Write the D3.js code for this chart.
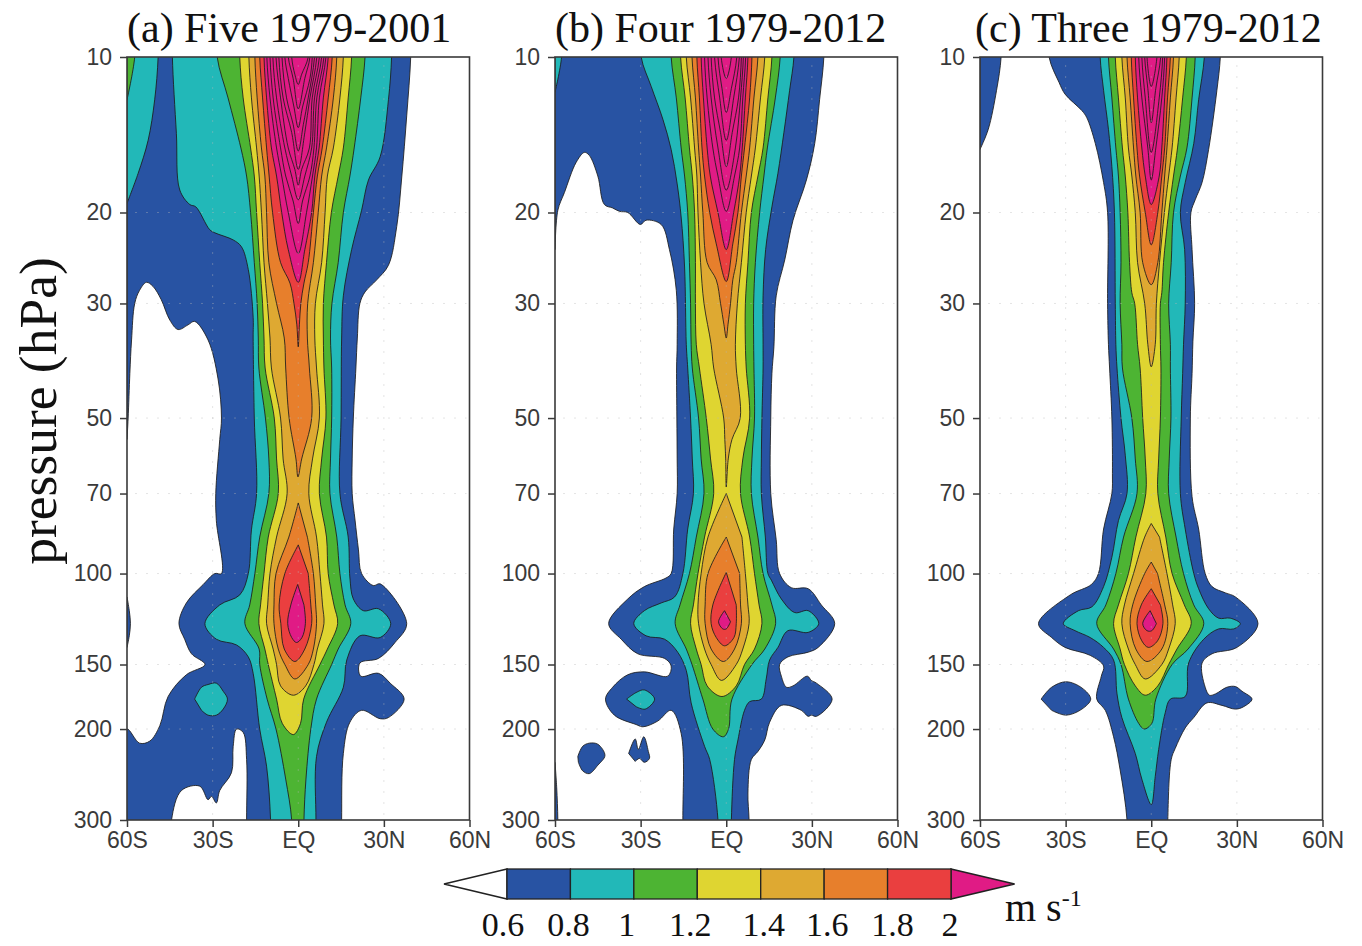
<!DOCTYPE html>
<html><head><meta charset="utf-8">
<script src="https://cdn.jsdelivr.net/npm/d3@7"></script>
<style>html,body{margin:0;background:#fff}svg{display:block}</style></head>
<body><svg id="c" width="1362" height="946"></svg>
<script>
const titles=["(a) Five 1979-2001","(b) Four 1979-2012","(c) Three 1979-2012"];
const pressureTicks=[10,20,30,50,70,100,150,200,300];
const latTicks=[-60,-30,0,30,60];
const latLabels=["60S","30S","EQ","30N","60N"];
const levels=[0.6,0.8,1,1.2,1.4,1.6,1.8,2];
const levelLabels=["0.6","0.8","1","1.2","1.4","1.6","1.8","2"];
const colors=["#2853a3","#22b8b8","#4db433","#dfd531","#dea932","#e77f2c","#ea3f3f","#e01b85"];

// free outlines: [lat, hPa]
const a06=[[-60,10],[39.4,10],[38,13],[36.3,17],[34.5,21.3],[31.6,25.3],[27.5,27],[23.4,28.5],[21.6,30],[20.7,35],[20.2,40],[19.3,50],[18.9,60],[18.9,70],[19.9,78.8],[21.1,90],[22.2,100],[26.3,105.5],[28.7,104.7],[38,125],[33.9,136],[28.1,146],[21.6,149],[21.9,158],[28.1,156],[32.2,163],[37.1,175],[31.6,190],[28.7,191],[22.2,184],[18.1,194],[15.8,223],[15.2,300],[-18.1,300],[-18.1,229],[-19.3,203],[-21.6,200],[-22.8,216],[-23.4,243],[-27.5,263],[-28.7,278],[-30.4,270],[-31.6,274],[-34.5,258],[-40.9,263],[-44.4,300],[-60,300],[-60,200],[-55.6,213],[-52,211],[-48.5,197],[-45.6,173],[-39.2,157],[-32.7,150],[-37.4,143],[-39.8,134],[-41.8,125],[-39.2,114],[-33.3,105],[-29.2,100],[-26.9,100],[-28.7,79],[-28.9,70],[-27.5,55],[-26.9,50],[-28.1,42],[-31.6,35.3],[-36.3,32.5],[-38.6,33],[-42.1,33.7],[-45,32.3],[-48,29.5],[-50.9,27.8],[-53.2,27.3],[-55.6,28.3],[-57.3,30],[-58.4,35.3],[-59,41],[-59.6,50],[-60,55]];
const a06edge=[[-60,111],[-59.2,118],[-58.8,125],[-59.2,132],[-60,139]];
const a08main=[[-44.1,10],[-42.7,14.05],[-41.5,18.1],[-38,19.3],[-35.9,19.5],[-31,21.6],[-29.2,21.9],[-22.8,22.6],[-19.9,23.3],[-17.5,25.8],[-15.8,31.9],[-15.8,35],[-15.4,50],[-14.6,70],[-16.4,82.3],[-17.5,100],[-20.5,110],[-27.5,115],[-32.7,125],[-28.7,134],[-21.6,137.5],[-17.5,145],[-15.8,156],[-13.5,200],[-11.1,236],[-9.7,300],[6.2,300],[6.4,226],[9.9,194],[15.8,166],[17,147],[21.6,132],[28.7,133],[32.4,125],[28.1,117],[22.8,118],[19.3,112],[18.1,102],[17.5,85],[14.6,70],[15,50],[15.2,35],[15.8,29],[18.7,23.6],[22.2,19.8],[24.6,17.3],[28.7,15.6],[31.6,12.1],[32.7,10]];
const a08left=[[-60,10],[-49.1,10],[-50.3,12.1],[-52.6,14.5],[-56.1,16.8],[-60,19.2]];
const a08blob=[[-36.3,175],[-33.9,166],[-31.6,164],[-28.7,163],[-26.3,169],[-24.8,175],[-26.3,183],[-28.7,188],[-31.6,188],[-33.9,184]];
const a10corner=[[-60,10],[-57.3,10],[-60,12.1]];

// nested contours: [hPa, left lat, right lat]
const a10=[[10,-28.4,23.4],[12,-24.6,21.9],[15,-20.1,19.6],[17,-18.1,18.1],[20,-16.7,15.8],[25,-15.4,14],[30,-14.4,11.8],[35,-14,11.3],[40,-13.8,11.7],[50,-11.5,11.7],[60,-10.3,11.3],[70,-10.3,11.1],[85,-13.5,13.5],[100,-15.2,14.6],[115,-17,16.4],[125,-18.7,18.4],[140,-13.7,14],[150,-13.5,11.7],[175,-10.9,6.4],[200,-7.8,4.4],[250,-4.4,2.7],[300,-2.3,2]];
const a12=[[10,-20.5,18.7],[12,-19.3,17.5],[15,-16.7,15.8],[17,-15.4,14],[20,-14.6,11.6],[25,-13.5,9.9],[30,-12.5,8.8],[35,-12,8.8],[40,-11.6,9],[50,-8.4,9.7],[60,-7.6,8.2],[70,-7,7.4],[85,-10.5,9.9],[100,-12,10.5],[115,-13.2,12.5],[125,-13.8,13.8],[140,-11.7,10.2],[150,-10.5,7.6],[175,-7.6,1.9],[195,-5.6,0.8],[205,-1.7,-1.7]];
const a14=[[10,-17.3,15.8],[12,-16.4,14.6],[15,-14.6,12.3],[17,-13.7,10.2],[20,-12.9,9.4],[25,-12,8.2],[30,-10.8,6],[35,-9.9,5.8],[40,-9.4,6.4],[50,-6.2,7.4],[60,-5.3,5],[70,-3.9,3.7],[85,-7.6,6.4],[100,-9.9,7.6],[115,-10.7,8.5],[125,-11.1,9],[140,-8.8,6.7],[150,-7.6,5.5],[165,-6.2,2.6],[172,-1.7,-1.7]];
const a16up=[[10,-15.2,13.5],[12,-14.4,12.3],[15,-12.9,9.9],[17,-11.7,8.2],[20,-11.1,7],[25,-10.3,5.3],[30,-7.6,3.3],[35,-4.9,3.2],[40,-4.4,3.9],[50,-3.2,4.7],[60,-0.8,1.2],[65,-0.1,-0.1]];
const a16lo=[[73,0,0],[85,-3.3,3.2],[100,-7.8,5.3],[115,-8.5,6.1],[125,-8.5,6.4],[140,-7,5.3],[150,-4.7,3.5],[160,-1.2,-1.2]];
const a18up=[[10,-13.5,11.9],[12,-12.5,10.5],[15,-11.1,8.4],[17,-10.2,6.7],[20,-9,5.3],[25,-6.2,3.5],[27.4,-2.9,2],[30,-1.5,0.9],[33,-0.5,0.4],[36.4,0,0]];
const a18lo=[[88,0,0],[100,-4.7,3.5],[115,-6.7,4.4],[125,-6.1,4.7],[140,-4.9,2.3],[148,-1.2,-1.2]];
const a20lo=[[105,-0.2,-0.2],[115,-2.6,2],[125,-3.7,2.5],[133,-2.3,1.3],[136,-0.6,-0.6]];
const a20=[[10,-12,10.5],[12,-11.1,8.8],[15,-9.4,7.3],[17,-7.6,5.8],[20,-5.8,4.7],[23.6,-3.5,2.3],[27.3,0,0]];
const a22=[[10,-11,9.7],[12,-9.9,7.4],[15,-7.6,6.4],[17,-5.8,5],[20,-3.5,2.9],[24,0,0]];
const a24=[[10,-9.9,9],[12,-8.8,6.5],[15,-6.2,5.5],[17,-4.4,4.1],[19,-1.8,1.5],[21,0,0]];
const a26=[[10,-8.9,8.2],[12,-7.6,5.7],[15,-4.7,4.7],[17,-2.3,2.3],[18.9,0,0]];
const a28=[[10,-7.8,7.4],[12,-6.2,4.9],[15,-3.5,3.9],[16.5,-1.2,1.2],[17.7,0,0]];
const a30=[[10,-6.8,6.5],[12,-5.3,4.1],[14,-2.3,2.3],[16.5,0,0]];
const a32=[[10,-5.7,5.7],[12,-4.1,3.5],[13.5,-1.8,1.8],[15.2,0,0]];
const a34=[[10,-4.7,4.9],[11,-3.5,4.1],[12.5,-1.5,1.5],[13.7,0,0]];
const a36=[[10,-3.5,4.1],[11,-1.8,2.3],[12.6,0,0]];
const a38=[[10,-2.3,3.5],[10.8,-1.2,1.2],[11.3,0,0]];

const b06=[[-60,10],[34.2,10],[32.7,12.1],[31,14.7],[28.1,17.3],[23.4,20.7],[20.5,24.7],[17.5,29],[16.7,36.4],[16,41],[15.6,50],[15.6,70],[17.5,86],[18.7,100],[22.8,106.5],[28.7,107],[33.3,115],[38,125],[32.2,139],[28.7,142],[21.6,145],[18.7,150],[19.3,158],[21.1,166],[23.4,165],[28.4,158],[29.8,161],[31.6,163],[37.1,175],[31.6,189],[29.8,188],[28.7,189],[26.3,184],[19.3,180],[15.2,194],[13.5,210],[11.1,221],[8.8,229],[7.6,266],[8,300],[-15.2,300],[-15.8,204],[-19.3,184],[-24,193],[-29.2,198],[-31.6,196],[-39.2,188],[-42.3,175],[-39.8,166],[-34.5,157],[-28.7,155],[-20.5,158],[-19.3,151],[-21.6,146],[-31,143],[-36.8,134],[-41.2,125],[-34.5,112],[-28.7,106],[-21.1,102],[-19.3,100],[-18.4,82],[-17.2,70],[-17.2,60],[-17.3,50],[-17.4,40],[-17.2,36],[-17.5,28.3],[-19.9,23.6],[-22.8,21.1],[-28.1,20.7],[-30.1,21.1],[-34.5,20],[-37.4,19.9],[-39.8,19.6],[-42.7,19.3],[-45,17],[-48,15.5],[-49.7,15.3],[-52.6,16],[-56.7,18.3],[-59,19.8],[-60,23.6]];
const b06blob=[[-52,226],[-50.3,216],[-48,213],[-45,214],[-42.5,225],[-45,235],[-48,244],[-50.3,241],[-51.8,232]];
const b06w=[[-34.2,223],[-31.9,209],[-30.8,219],[-28.9,207],[-27.3,221],[-26.9,228],[-28.7,232],[-30.4,228],[-31.9,231]];
const b06edge=[[-60,232],[-59.4,260],[-59,300],[-60,300]];
const b08corner=[[-60,10],[-57.7,10],[-60,11.7]];
const b08main=[[-29.8,10],[-26.3,11.4],[-22.2,13.2],[-19.3,15.1],[-17.2,17.6],[-15.8,20.4],[-14.6,25.5],[-14,36],[-13.5,40],[-12.5,50],[-11.9,60],[-11.5,70],[-13.5,82],[-15.2,100],[-18.1,111],[-22.8,114],[-28.7,118],[-32.4,125],[-28.1,132],[-21.6,134],[-17,142],[-14,154],[-12.3,178],[-7.6,216],[-5.8,229],[-2.9,300],[1.8,300],[2.9,229],[4.1,210],[6.4,184],[8.2,177],[12.3,175],[14,160],[15.2,147],[18.1,139],[21.6,129],[28.7,130],[32.4,125],[28.7,118],[24,119],[19.3,112],[15.8,103],[14.6,100],[13.7,85],[12.3,70],[12.3,60],[12.5,50],[12.9,40],[12.9,36],[12.9,29],[13.8,23.6],[16,19.5],[18.1,16.8],[20.2,14],[22.2,11.6],[23.7,10]];
const b08blob=[[-34.9,175],[-31.6,170],[-28.7,168],[-25.1,175],[-28.4,183],[-31.6,181]];
const b10=[[10,-19.3,18.9],[12,-17.5,17.2],[15,-15.8,14.4],[17,-14.6,13.2],[20,-13.5,11.7],[25,-12.9,10.2],[30,-12.5,9.6],[36,-12.3,9.6],[40,-11.9,9.7],[50,-9.7,9.9],[60,-8.8,9],[70,-7.8,8.8],[85,-10.5,11.1],[100,-12.9,12.9],[115,-16.2,16],[125,-17.9,17.3],[140,-14,13.5],[150,-12,9],[175,-8.2,2],[200,-4.7,0.8],[207,-1,-1]];
const b12=[[10,-16,16],[12,-14.4,14.6],[15,-12.9,12.9],[17,-11.9,11.1],[20,-11.1,8.8],[25,-10.8,7.6],[30,-10.8,6.7],[36,-10.5,6.7],[40,-9.4,7],[50,-7,8.2],[60,-5.5,5.8],[70,-4.4,5],[85,-7.6,8.2],[100,-9.9,9.9],[115,-11.5,11.5],[125,-12.5,12.5],[140,-10.5,9.9],[150,-8.8,6.4],[165,-6.7,3.5],[173,-1.5,-1.5]];
const b14up=[[10,-14,13.5],[12,-12.5,12],[15,-11.1,10.2],[17,-10.3,8.8],[20,-9.9,7],[25,-9,5.3],[30,-7.8,3.9],[36,-5.3,3.2],[40,-4.4,3.5],[50,-0.9,4.9],[55,-0.5,2],[60,-0.2,0.7],[68,0,0]];
const b14lo=[[70,0,0],[85,-6.4,5.5],[100,-8.8,6.7],[115,-9.9,7.6],[125,-9.7,8],[140,-7.6,5.8],[150,-5.3,3.5],[161,-1.7,-1.7]];
const b16up=[[10,-12,11.1],[12,-10.8,9.7],[15,-9.7,8.2],[17,-9,7],[20,-8.2,5.3],[25,-6.7,3.5],[27,-3.5,2.3],[30,-2,1.5],[33,-0.8,0.6],[35,0,0]];
const b16lo=[[85,0,0],[100,-6.4,4.7],[115,-7.4,5],[125,-7.4,5.3],[140,-5.3,2.9],[148,-1,-1]];
const b18up=[[10,-10.3,9],[12,-9.4,8.2],[15,-8.5,6.4],[17,-7.6,5.3],[20,-5.8,4.1],[23,-3.5,2.3],[27.2,0,0]];
const b18lo=[[99.5,0,0],[115,-4.7,3.5],[125,-5.3,3.5],[133,-3.5,2.7],[138,-0.6,-0.6]];
const b20lo=[[118,-0.6,-0.6],[124,-2.7,1.5],[128,-1.2,0]];
const b20=[[10,-8.8,7.6],[12,-8,6.7],[15,-6.7,5.6],[17,-5.6,4.7],[20,-2.9,2.6],[23.6,0,0]];
const b22=[[10,-7.6,6.8],[12,-6.7,5.8],[15,-4.7,4.7],[17,-2.9,2.9],[19.9,0,0]];
const b24=[[10,-6.4,6],[12,-5.3,5],[15,-2.9,3.2],[18.1,0,0]];
const b26=[[10,-5.3,5.3],[12,-4.1,4.3],[14,-2,2.1],[16.3,0,0]];
const b28=[[10,-4.1,4.6],[12,-2.3,2.6],[14.5,0,0]];
const b30=[[10,-2.9,3.7],[11.5,-1.5,1.8],[12.8,0,0]];
const b32=[[10,-1.8,1.8],[11,0,0]];

const c06strip=[[-60,10],[-52.6,10],[-54.2,11.6],[-57.1,13.8],[-60,15.1]];
const c06=[[-35.8,10],[-32.3,11.2],[-30.2,11.8],[-24.3,12.7],[-22.6,13.1],[-19.6,14.7],[-16.7,17.5],[-15.3,20],[-15.3,30],[-15,36],[-14.6,40],[-13.8,50],[-13.6,64],[-13.8,70],[-16.7,82],[-18.5,100],[-21,105],[-28.4,110],[-39.5,125],[-34.9,133],[-30.2,139],[-21.4,144],[-16.7,151],[-17.5,158],[-19.1,175],[-16.1,184],[-13.2,207],[-10.9,240],[-8.5,300],[5.8,300],[7,229],[8.4,218],[11.9,199],[14.9,190],[19.5,178],[24.8,180],[29.5,183],[32.4,181],[35.3,175],[31.8,169],[29.5,165.5],[26.5,166],[22.5,171],[20.4,172],[18.9,166],[17.8,149],[21.3,143],[30,139],[37.4,125],[29.5,111],[26,109],[21.3,106],[18.9,100],[16.6,82],[14.3,71],[13.7,50],[14.3,41],[14.6,35.5],[15.2,30],[14.3,23.6],[13.9,20],[15.4,18.9],[17.8,17.5],[20.1,15.1],[23,11.6],[24.2,10]];
const c06blob=[[-38.6,175],[-34.9,166],[-29.8,162],[-24.3,166.5],[-21.2,175],[-24.3,183],[-29.8,188],[-34.9,184]];
const c08=[[-17.9,10],[-16.7,11.6],[-15,13.8],[-13.8,16.3],[-12.9,20],[-12.6,30],[-12.4,36],[-12,40],[-10.6,50],[-9.1,59],[-8.5,70],[-11.5,79],[-13.8,93],[-16.7,106],[-20.8,116],[-25.5,118],[-30.8,125],[-26.7,129],[-21.4,133],[-16.7,139],[-13.2,147],[-12,171],[-10.3,190],[-5.6,223],[-3.3,250],[0,280],[1.4,247],[2.6,219],[4.9,186],[6.7,175],[11.9,173],[13.1,149],[18.4,134],[23.6,128],[28.9,128],[31.2,125],[27.7,122],[23.6,122],[20.1,117],[16.6,107],[14.9,100],[11.9,82],[10.2,70],[10.5,50],[11,41],[11.3,36],[11.9,30],[11.7,23.6],[10.2,20],[11.9,17.5],[14.9,14.7],[16.6,12.1],[18.6,10]];
const c10=[[10,-15,15.4],[12,-13.8,14.3],[15,-12.4,12.5],[17,-11.5,10.2],[20,-10.9,7.8],[25,-10.6,7],[30,-10.9,6.1],[36,-10.3,6.7],[40,-10.1,6.7],[50,-6.8,6.9],[60,-5.6,6.3],[70,-5,6.1],[85,-9.7,8.7],[100,-12.4,11.3],[115,-15.9,14.9],[125,-19.1,18.4],[140,-13.2,12.9],[150,-10.6,7.3],[175,-8,1.6],[195,-4.4,0.2],[200,-2.5,-2.5]];
const c12=[[10,-12.6,12.3],[12,-11.5,11],[15,-10.1,9.2],[17,-9.1,7.8],[20,-8.2,6.1],[25,-7.6,4.3],[28.6,-6.8,3.7],[30,-5.8,3.2],[36,-4.8,3.2],[40,-3.9,3.4],[50,-3,3.2],[60,-2.1,2.6],[70,-1.9,2.3],[85,-5.4,5.1],[100,-8,7.3],[115,-11.5,11.6],[125,-13.2,14],[140,-10.9,9],[150,-9.4,6.1],[165,-5.6,2.3],[172,-2.1,-2.1]];
const c14up=[[10,-10.3,9.8],[12,-9.1,8.7],[15,-8,7.3],[17,-6.8,6.1],[20,-5.6,4.6],[25,-4.8,2.9],[30,-2.3,1.8],[36,-1.2,1.4],[39.8,0,0]];
const c14lo=[[80,0,0],[85,-2.3,2.9],[100,-6.2,5.5],[115,-9.4,7.5],[125,-10.3,8.4],[140,-8,6.1],[150,-5.6,3.7],[160,-2.1,-2.1]];
const c16up=[[10,-8.5,7.8],[12,-7.4,6.7],[15,-6.2,5.5],[17,-5.4,4.7],[20,-3.9,3.7],[25,-3,2.3],[27.6,0,0]];
const c16lo=[[95,0,0],[100,-2.3,2.2],[115,-6.5,4.7],[125,-7.4,5.8],[140,-5.4,3.7],[148,-1.5,-1.5]];
const c18up=[[10,-7,6.7],[12,-6.2,5.7],[15,-5,4.7],[17,-4.1,3.7],[20,-2.1,2.3],[23.1,0,0]];
const c18lo=[[107,0,0],[115,-3.5,3.2],[125,-5,4.1],[135,-3.3,2.2],[139,-1,-1]];
const c20lo=[[118,-0.4,-0.4],[125,-3,1.8],[129,-1.5,0.2]];
const c20=[[10,-5.6,5.5],[12,-4.8,4.7],[15,-3.3,3.7],[17,-2.1,2.8],[19.3,0,0]];
const c22=[[10,-4.4,4.7],[12,-3.3,3.7],[15,-1.2,1.6],[17.3,0,0]];
const c24=[[10,-3.3,4],[12,-2.1,2.8],[15.3,0,0]];
const c26=[[10,-2.3,3.3],[11.5,-1.2,1.6],[13.4,0,0]];
const c28=[[10,-1.5,2],[11.4,0,0]];

const rows=r=>{const L=r.map(d=>[d[1],d[0]]),R=r.filter(d=>d[1]!==d[2]).map(d=>[d[2],d[0]]).reverse();return L.concat(R)};
// outlines that reach the top or bottom of the frame run on past it, so they meet the frame without rounding
const past=pts=>pts.flatMap((d,i)=>{
 const n=pts.length,prev=pts[(i+n-1)%n],next=pts[(i+1)%n],out=d[1]===300?360:d[1]===10?8.3:null;
 if(out===null)return [d];
 if(next[1]===d[1])return [d,[d[0],out]];
 if(prev[1]===d[1])return [[d[0],out],d];
 return [d];
});
const mag=7;
const panels=[
 {px:127,layers:[[0,a06],[0,a06edge],[1,a08left],[1,a08main],[1,a08blob],[2,a10corner],[2,rows(a10)],[3,rows(a12)],[4,rows(a14)],[5,rows(a16up)],[5,rows(a16lo)],[6,rows(a18up)],[6,rows(a18lo)],[mag,rows(a20lo)],...[a20,a22,a24,a26,a28,a30,a32,a34,a36,a38].map(r=>[mag,rows(r)])]},
 {px:555,layers:[[0,b06],[0,b06blob],[0,b06w],[0,b06edge],[1,b08corner],[1,b08main],[1,b08blob],[2,rows(b10)],[3,rows(b12)],[4,rows(b14up)],[4,rows(b14lo)],[5,rows(b16up)],[5,rows(b16lo)],[6,rows(b18up)],[6,rows(b18lo)],[mag,rows(b20lo)],...[b20,b22,b24,b26,b28,b30,b32].map(r=>[mag,rows(r)])]},
 {px:980,layers:[[0,c06strip],[0,c06],[0,c06blob],[1,c08],[2,rows(c10)],[3,rows(c12)],[4,rows(c14up)],[4,rows(c14lo)],[5,rows(c16up)],[5,rows(c16lo)],[6,rows(c18up)],[6,rows(c18lo)],[mag,rows(c20lo)],...[c20,c22,c24,c26,c28].map(r=>[mag,rows(r)])]}
];

const svg=d3.select("#c");
const W=342.5,T=57,B=820;
const y=d3.scaleLog().domain([10,300]).range([T,B]);
const tickFont="'Liberation Sans',Arial,sans-serif",serif="'Liberation Serif','Times New Roman',serif";

panels.forEach((p,i)=>{
 const x=d3.scaleLinear().domain([-60,60]).range([p.px,p.px+W]);
 const line=d3.line().x(d=>x(d[0])).y(d=>y(d[1])).curve(d3.curveCatmullRom.alpha(0.5));
 const cid="clip"+i;
 svg.append("clipPath").attr("id",cid).append("rect").attr("x",p.px).attr("y",T).attr("width",W).attr("height",B-T);
 const g=svg.append("g").attr("clip-path",`url(#${cid})`);
 g.selectAll("path").data(p.layers).join("path")
  .attr("d",d=>line(past(d[1]))+"Z").attr("fill",d=>colors[d[0]]).attr("stroke","#1c1c1c").attr("stroke-width",1).attr("stroke-opacity",.85).attr("stroke-linejoin","round");
 const grid=svg.append("g").attr("stroke","#b8b8b8").attr("stroke-opacity",.38).attr("stroke-dasharray","2 9");
 pressureTicks.slice(1,-1).forEach(v=>grid.append("line").attr("x1",p.px+8).attr("x2",p.px+W-3).attr("y1",y(v)).attr("y2",y(v)));
 [-30,0,30].forEach(v=>grid.append("line").attr("x1",x(v)).attr("x2",x(v)).attr("y1",T+8).attr("y2",B-3));
 svg.append("rect").attr("x",p.px).attr("y",T).attr("width",W).attr("height",B-T).attr("fill","none").attr("stroke","#3a3a3a").attr("stroke-width",1.6);
 const ax=svg.append("g").attr("transform",`translate(${p.px},0)`)
  .call(d3.axisLeft(y).tickValues(pressureTicks).tickFormat(d3.format("d")).tickSize(7).tickPadding(8));
 const bx=svg.append("g").attr("transform",`translate(0,${B})`)
  .call(d3.axisBottom(x).tickValues(latTicks).tickFormat((d,j)=>latLabels[j]).tickSize(7).tickPadding(5));
 [ax,bx].forEach(a=>{a.select(".domain").remove();a.selectAll("line").attr("stroke","#3a3a3a").attr("stroke-width",1.5);
  a.selectAll("text").attr("font-family",tickFont).attr("font-size",23).attr("fill","#3a3a3a")});
 svg.append("text").attr("x",[127,555,975][i]).attr("y",42).attr("font-family",serif).attr("font-size",42).attr("fill","#111").text(titles[i]);
});
svg.append("text").attr("transform","translate(56,411) rotate(-90)").attr("text-anchor","middle").attr("font-family",serif).attr("font-size",53.5).attr("fill","#111").text("pressure (hPa)");

// colour bar
const cx=d3.scalePoint().domain(levels).range([507,951]);
const cb=svg.append("g"),cT=869,cH=30;
cb.append("path").attr("d",`M${cx(.6)},${cT}L444,${cT+cH/2}L${cx(.6)},${cT+cH}Z`).attr("fill","#fff").attr("stroke","#222").attr("stroke-width",1.5);
cb.append("path").attr("d",`M${cx(2)},${cT}L1014.6,${cT+cH/2}L${cx(2)},${cT+cH}Z`).attr("fill",colors[7]).attr("stroke","#222").attr("stroke-width",1.5);
cb.selectAll("rect").data(levels.slice(0,-1)).join("rect").attr("x",d=>cx(d)).attr("y",cT).attr("width",cx.step()).attr("height",cH).attr("fill",(d,i)=>colors[i]).attr("stroke","#222").attr("stroke-width",1.3);
const nudge=[-4,-2,-7,-7,3,3,5,-1];
cb.selectAll("text").data(levels).join("text").attr("x",(d,i)=>cx(d)+nudge[i]).attr("y",936).attr("text-anchor","middle").attr("font-family",serif).attr("font-size",34).attr("fill","#111").text((d,i)=>levelLabels[i]);
const u=svg.append("text").attr("x",1005).attr("y",921).attr("font-family",serif).attr("font-size",40).attr("fill","#111");
u.append("tspan").text("m s");
u.append("tspan").attr("font-size",24).attr("dy",-15).text("-1");
</script></body></html>
